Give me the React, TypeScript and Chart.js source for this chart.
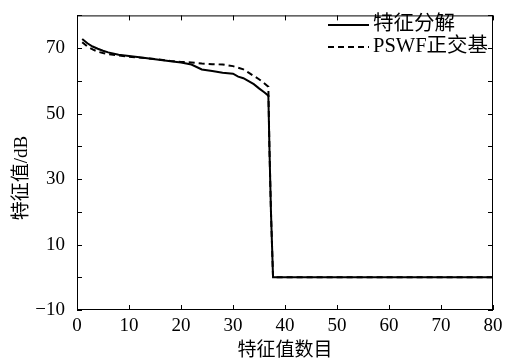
import React, { useEffect, useRef } from "react";
import { Chart, registerables } from "chart.js";

Chart.register(...registerables);

const solidX = [1, 2, 3, 4, 5, 6, 8, 10, 12, 15, 18, 20, 22, 24, 26, 28, 30, 31, 32, 33, 34, 35, 36, 36.8, 37, 37.3, 37.5, 37.7, 80];
const solidY = [72.8, 71.5, 70.5, 69.8, 69.2, 68.7, 68, 67.6, 67.2, 66.6, 66, 65.6, 65, 63.5, 63, 62.5, 62.2, 61.3, 60.8, 59.9, 59, 57.7, 56.5, 55.5, 40, 20, 10, 0, 0];
const dashX = [1, 2, 3, 4, 5, 6, 8, 10, 12, 15, 18, 20, 22, 24, 26, 28, 30, 31, 32, 33, 34, 35, 36, 36.8, 37, 37.3, 37.5, 37.7, 80];
const dashY = [71.8, 70.5, 69.6, 68.9, 68.5, 68.2, 67.8, 67.4, 67.1, 66.7, 66.1, 65.8, 65.6, 65.3, 65.1, 65, 64.5, 64, 63.5, 62.5, 61.5, 60.5, 59.3, 58.2, 40, 20, 10, 0, 0];
const seriesNames = ["特征分解", "PSWF正交基"];
const xTicks = [0, 10, 20, 30, 40, 50, 60, 70, 80];
const yLabeled = [-10, 10, 30, 50, 70];
const xTitle = "特征值数目";
const yTitle = "特征值/dB";

const SERIF = "'Liberation Serif', 'Times New Roman', 'Noto Sans CJK SC', serif";
const CJK = "'Liberation Serif', 'Noto Sans CJK SC', serif";

export default function App() {
  const ref = useRef<HTMLCanvasElement | null>(null);
  useEffect(() => {
    const canvas = ref.current!;
    const tickPlugin = {
      id: "innerTicks",
      afterDraw(chart: any) {
        const ctx = chart.ctx;
        const { left, right, top, bottom } = chart.chartArea;
        const xs = chart.scales.x;
        const ys = chart.scales.y;
        ctx.save();
        ctx.strokeStyle = "#000";
        ctx.lineWidth = 1;
        ctx.strokeRect(left + 0.5, top + 0.5, right - left - 1, bottom - top - 1);
        const L = 5;
        ctx.beginPath();
        xTicks.forEach((v) => {
          const px = Math.round(xs.getPixelForValue(v)) + 0.5;
          ctx.moveTo(px, bottom);
          ctx.lineTo(px, bottom - L);
          ctx.moveTo(px, top);
          ctx.lineTo(px, top + L);
        });
        for (let v = -10; v <= 80; v += 10) {
          const py = Math.round(ys.getPixelForValue(v)) + 0.5;
          ctx.moveTo(left, py);
          ctx.lineTo(left + L, py);
          ctx.moveTo(right, py);
          ctx.lineTo(right - L, py);
        }
        ctx.stroke();
        // y title
        ctx.save();
        ctx.translate(22, 178);
        ctx.rotate(-Math.PI / 2);
        ctx.font = "19px " + CJK;
        ctx.fillStyle = "#000";
        ctx.textAlign = "center";
        ctx.textBaseline = "middle";
        ctx.fillText(yTitle, 0, 0);
        ctx.restore();
        // legend
        ctx.font = "20.5px " + CJK;
        ctx.fillStyle = "#000";
        ctx.textBaseline = "middle";
        ctx.textAlign = "left";
        const lx0 = 328, lx1 = 369, tx = 373;
        const rows = [25, 47];
        ctx.lineWidth = 2;
        ctx.setLineDash([]);
        ctx.beginPath();
        ctx.moveTo(lx0, rows[0]);
        ctx.lineTo(lx1, rows[0]);
        ctx.stroke();
        ctx.setLineDash([6, 4]);
        ctx.beginPath();
        ctx.moveTo(lx0, rows[1]);
        ctx.lineTo(lx1, rows[1]);
        ctx.stroke();
        ctx.setLineDash([]);
        ctx.fillText(seriesNames[0], tx, rows[0]);
        ctx.fillText(seriesNames[1], tx, rows[1]);
        ctx.restore();
      },
    };
    const chart = new Chart(canvas, {
      type: "line",
      data: {
        datasets: [
          {
            label: seriesNames[0],
            data: solidX.map((x, i) => ({ x, y: solidY[i] })),
            borderColor: "#000",
            borderWidth: 2,
            pointRadius: 0,
            tension: 0,
          },
          {
            label: seriesNames[1],
            data: dashX.map((x, i) => ({ x, y: dashY[i] })),
            borderColor: "#000",
            borderWidth: 2,
            borderDash: [6, 4],
            pointRadius: 0,
            tension: 0,
          },
        ],
      },
      options: {
        responsive: false,
        animation: false,
        layout: { padding: { top: 4, right: 24, left: 0, bottom: 2 } },
        plugins: { legend: { display: false }, tooltip: { enabled: false } },
        scales: {
          x: {
            type: "linear",
            min: 0,
            max: 80,
            grid: { display: false },
            border: { display: false },
            afterBuildTicks: (s: any) => {
              s.ticks = xTicks.map((v) => ({ value: v }));
            },
            afterFit: (s: any) => {
              s.height = 52;
            },
            ticks: {
              color: "#000",
              font: { family: SERIF, size: 19 },
              padding: -3,
              maxRotation: 0,
            },
            title: {
              display: true,
              text: xTitle,
              color: "#000",
              font: { family: CJK, size: 19 },
              padding: { top: 0, bottom: 0 },
            },
          },
          y: {
            type: "linear",
            min: -10,
            max: 80,
            grid: { display: false },
            border: { display: false },
            afterBuildTicks: (s: any) => {
              s.ticks = yLabeled.map((v) => ({ value: v }));
            },
            afterFit: (s: any) => {
              s.width = 77;
            },
            ticks: {
              color: "#000",
              font: { family: SERIF, size: 19 },
              padding: 4,
              callback: (v: any) => (v < 0 ? "−" + Math.abs(v) : String(v)),
            },
            title: { display: false },
          },
        },
      },
      plugins: [tickPlugin],
    } as any);
    return () => chart.destroy();
  }, []);
  return (
    <div style={{ position: "fixed", left: 0, top: 0, width: 517, height: 364, background: "#fff" }}>
      <canvas ref={ref} width={517} height={364} style={{ width: 517, height: 364 }} />
    </div>
  );
}
